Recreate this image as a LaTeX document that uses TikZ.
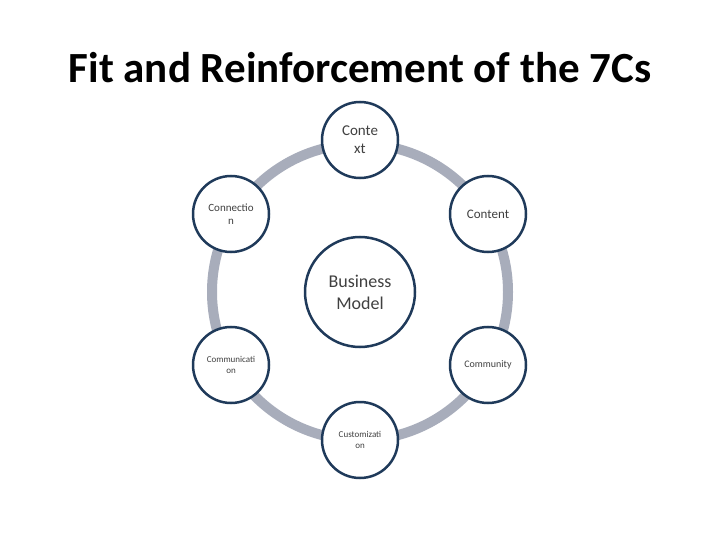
\documentclass[tikz,border=0pt]{standalone}
\usepackage{fontspec}
\setmainfont{Carlito}
\begin{document}
\begin{tikzpicture}[x=1pt,y=-1pt,
  cnode/.style={circle,draw=nodeblue,line width=2.5pt,fill=white,align=center,text=txt,inner sep=0pt},
  ringline/.style={draw=ringgray,line width=10pt}]
\definecolor{nodeblue}{HTML}{1F3A5A}
\definecolor{ringgray}{HTML}{A8ADBB}
\definecolor{txt}{HTML}{404040}
\useasboundingbox[fill=white] (0,0) rectangle (720,540);
\node[font=\bfseries\fontsize{43}{48}\selectfont] (title) at (360,68) {Fit and Reinforcement of the 7Cs};
\coordinate (c) at (360,292);
\draw[ringline] (c) circle[radius=148];
\node[cnode,minimum size=76pt,font=\fontsize{15}{18}\selectfont] (cctx) at (360,140) {Conte\\xt};
\node[cnode,minimum size=76pt,font=\fontsize{13}{15}\selectfont] (ccont) at (488,214) {Content};
\node[cnode,minimum size=76pt,font=\fontsize{10}{12}\selectfont] (ccomm) at (488,365) {Community};
\node[cnode,minimum size=76pt,font=\fontsize{9}{11}\selectfont] (ccust) at (360,440) {Customizati\\on};
\node[cnode,minimum size=76pt,font=\fontsize{9}{11}\selectfont] (ccom) at (231,365) {Communicati\\on};
\node[cnode,minimum size=76pt,font=\fontsize{11}{13}\selectfont] (cconn) at (231,214) {Connectio\\n};
\node[cnode,minimum size=110pt,font=\fontsize{18}{22}\selectfont] (biz) at (c) {Business\\Model};
\end{tikzpicture}
\end{document}
